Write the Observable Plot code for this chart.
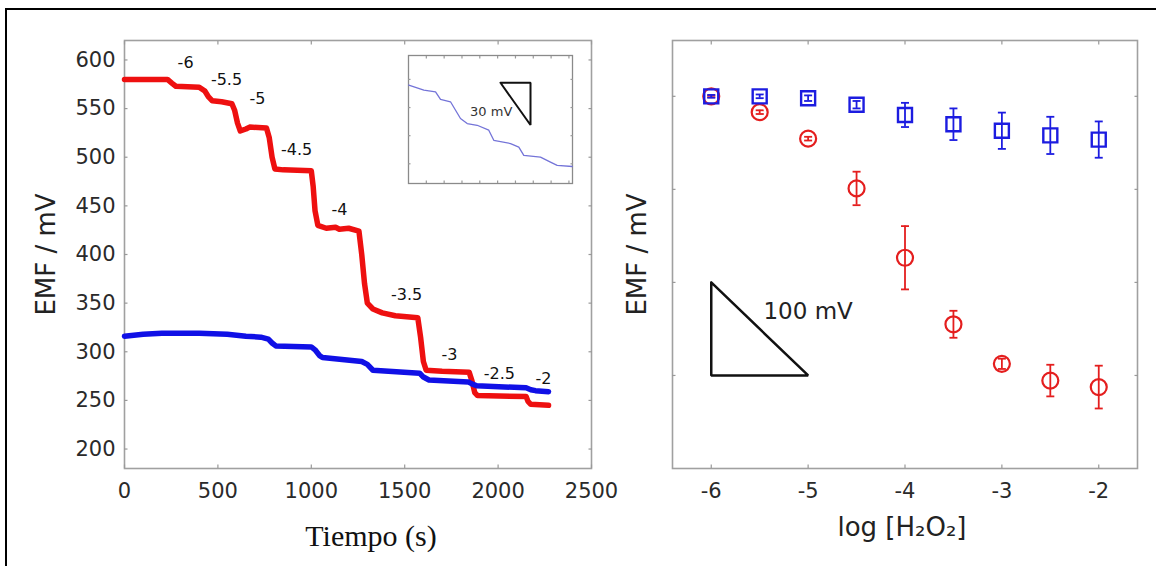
<!DOCTYPE html>
<html><head><meta charset="utf-8">
<script src="https://cdn.jsdelivr.net/npm/d3@7"></script>
<script src="https://cdn.jsdelivr.net/npm/@observablehq/plot@0.6"></script>
<style>
html,body{margin:0;padding:0;background:#fff;overflow:hidden;}
#root{position:relative;width:1156px;height:566px;background:#fff;overflow:hidden;}
#border{position:absolute;left:5px;top:8px;width:1170px;height:580px;border-left:2px solid #000;border-top:2px solid #000;pointer-events:none;}
#left{position:absolute;left:0;top:0;width:620px;height:566px;}
#right{position:absolute;left:600px;top:0;width:556px;height:566px;}
#inset{position:absolute;left:407px;top:54px;width:166px;height:130px;}
</style></head><body>
<div id="root"><div id="left"></div><div id="right"></div><div id="inset"></div><div id="border"></div></div>
<script>
// ---------- Left panel: EMF vs time ----------
const timeTicks = [0, 500, 1000, 1500, 2000, 2500];
const emfTicks = [200, 250, 300, 350, 400, 450, 500, 550, 600];
const redTime = [0,120,230,255,275,400,430,450,470,520,575,590,605,620,650,670,760,775,790,805,850,1000,1010,1020,1035,1080,1130,1150,1200,1255,1270,1285,1300,1330,1380,1450,1570,1585,1600,1615,1700,1845,1860,1875,1890,2150,2160,2175,2270];
const redEMF  = [580,580,580,576,573,572,568,562,558,557,555,548,535,527,529,531,530,520,500,488,487,486,470,445,430,427,428,426,427,424,400,370,350,344,340,337,335,315,290,281,280,279,270,258,255,254,249,246,245];
const blueTime = [0,100,200,400,550,650,730,770,790,810,1000,1020,1045,1060,1270,1300,1330,1580,1600,1630,1840,1860,1885,2150,2175,2200,2270];
const blueEMF  = [316,318,319,319,318,316,315,313,309,306,305,302,296,294,290,287,281,278,274,271,269,267,265,263,261,260,259];
const stepLabels    = ["-6","-5.5","-5","-4.5","-4","-3.5","-3","-2.5","-2"];
const stepLabelTime = [327, 546, 712, 921, 1151, 1510, 1740, 2007, 2243];
const stepLabelEMF  = [597, 580, 560, 508, 446, 359, 297, 277, 272];

// ---------- Inset ----------
const insetTime = [4,215,379,449,589,729,823,963,1126,1196,1431,1547,1617,1851,1991,2085,2296];
const insetEMF  = [316,312.4,311.2,305.8,304.1,292.2,288.6,287.4,283.9,276.7,274.4,271.9,266,264.8,261.2,258.9,258.1];
const insetTimeTicks = [250,500,750,1000,1250,1500,1750,2000,2250];
const insetEmfTicks = [260,280,300,320];
const insetTriTime = [1290,1711,1711,1290];
const insetTriEMF  = [317.6,317.6,287.6,317.6];
const insetNote = ["30 mV"], insetNoteTime = [1160], insetNoteEMF = [296.7];

// ---------- Right panel: EMF vs log[H2O2] ----------
const logH2O2 = [-6,-5.5,-5,-4.5,-4,-3.5,-3,-2.5,-2];
const redMean = [400,383,354.5,301,226.5,155,112.5,94.5,87.5];
const redErr  = [1,2,2,18,34,14.5,5.5,17,23];
const blueMean = [400,400,398,391,380,370,363,358,353.5];
const blueErr  = [1.5,2,3,4,13,17,19.5,20,19.5];
const logTicks = [-6,-5,-4,-3,-2];
const emfRelTicks = [100,200,300,400];
const slopeTriLog = [-6,-6,-5,-6];
const slopeTriEMF = [200,100,100,200];
const slopeNote = ["100 mV"], slopeNoteLog = [-5.0], slopeNoteEMF = [169];

const RED = "#e41e1e", BLUE = "#1c1ce0";
const FONT = "'DejaVu Sans', sans-serif";
const plain = d => String(d);

function inwardTicks(xt, yt, size, stroke) {
  const o = {tickSize: size, fill: "none", stroke, strokeWidth: 1.2, label: null, tickFormat: () => ""};
  return [
    Plot.axisX(xt, {...o, anchor: "bottom", dy: -size}),
    Plot.axisX(xt, {...o, anchor: "top", dy: size}),
    Plot.axisY(yt, {...o, anchor: "left", dx: size}),
    Plot.axisY(yt, {...o, anchor: "right", dx: -size})
  ];
}
const capSymbol = {draw(ctx, size) { const r = Math.sqrt(size / Math.PI); ctx.moveTo(-r, 0); ctx.lineTo(r, 0); }};

const redSeries = redTime.map((t, i) => ({t, v: redEMF[i]}));
const blueSeries = blueTime.map((t, i) => ({t, v: blueEMF[i]}));
const labelRows = stepLabels.map((s, i) => ({s, t: stepLabelTime[i], v: stepLabelEMF[i]}));

const left = Plot.plot({
  width: 620, height: 566,
  marginLeft: 124, marginRight: 29, marginTop: 40, marginBottom: 98,
  style: {fontFamily: FONT, fontSize: "21px", color: "#2a2a2a", background: "transparent", overflow: "visible"},
  x: {domain: [0, 2500], label: null},
  y: {domain: [180, 620], label: null},
  marks: [
    Plot.frame({stroke: "#a0a0a0", strokeWidth: 1.6}),
    ...inwardTicks(timeTicks, emfTicks, 3.5, "#999"),
    Plot.axisY(emfTicks, {anchor: "left", tickSize: 0, tickPadding: 9, tickFormat: plain, label: null}),
    Plot.axisX(timeTicks, {anchor: "bottom", tickSize: 0, tickPadding: 15, tickFormat: plain, label: null}),
    Plot.line(redSeries, {x: "t", y: "v", stroke: "#ee1010", strokeWidth: 5.5, strokeLinejoin: "round", strokeLinecap: "round"}),
    Plot.line(blueSeries, {x: "t", y: "v", stroke: "#1010e6", strokeWidth: 5.5, strokeLinejoin: "round", strokeLinecap: "round"}),
    Plot.text(labelRows, {x: "t", y: "v", text: "s", fontSize: 16, fill: "#111"}),
    Plot.text(["EMF / mV"], {frameAnchor: "left", dx: -78, rotate: -90, textAnchor: "middle", fontSize: 26, fill: "#222"}),
    Plot.text(["Tiempo (s)"], {frameAnchor: "bottom", dy: 68, dx: 13, lineAnchor: "middle", fontFamily: "'Liberation Serif', serif", fontSize: 30, fill: "#111"})
  ]
});
document.getElementById("left").appendChild(left);

const insetRows = insetTime.map((t, i) => ({t, v: insetEMF[i]}));
const insetTri = insetTriTime.map((t, i) => ({t, v: insetTriEMF[i]}));
const inset = Plot.plot({
  width: 166, height: 130, margin: 1,
  style: {fontFamily: FONT, background: "white", overflow: "visible"},
  x: {domain: [0, 2300], label: null},
  y: {domain: [246, 337], label: null},
  marks: [
    Plot.frame({stroke: "#8a8a8a", strokeWidth: 1.3}),
    ...inwardTicks(insetTimeTicks, insetEmfTicks, 2.5, "#999"),
    Plot.line(insetRows, {x: "t", y: "v", stroke: "#7474d8", strokeWidth: 1.3}),
    Plot.line(insetTri, {x: "t", y: "v", stroke: "#111", strokeWidth: 2, strokeLinejoin: "miter"}),
    Plot.text(insetNote, {x: (d, i) => insetNoteTime[i], y: (d, i) => insetNoteEMF[i], text: d => d, fontSize: 13, fill: "#333"})
  ]
});
document.getElementById("inset").appendChild(inset);

const pts = logH2O2.map((x, i) => ({x, r: redMean[i], re: redErr[i], b: blueMean[i], be: blueErr[i]}));
const tri = slopeTriLog.map((x, i) => ({x, v: slopeTriEMF[i]}));
const right = Plot.plot({
  width: 556, height: 566,
  marginLeft: 72, marginRight: 19, marginTop: 40, marginBottom: 98,
  style: {fontFamily: FONT, fontSize: "21px", color: "#2a2a2a", background: "transparent", overflow: "visible"},
  x: {domain: [-6.4, -1.6], label: null},
  y: {domain: [0, 460], label: null},
  marks: [
    Plot.frame({stroke: "#a0a0a0", strokeWidth: 1.6}),
    ...inwardTicks(logTicks, emfRelTicks, 3.5, "#999"),
    Plot.axisX(logTicks, {anchor: "bottom", tickSize: 0, tickPadding: 15, tickFormat: plain, label: null}),
    Plot.line(tri, {x: "x", y: "v", stroke: "#111", strokeWidth: 2.5, strokeLinejoin: "miter"}),
    Plot.text(slopeNote, {x: (d, i) => slopeNoteLog[i], y: (d, i) => slopeNoteEMF[i], text: d => d, fontSize: 23, fill: "#222"}),
    // red series
    Plot.ruleX(pts, {x: "x", y1: d => d.r - d.re, y2: d => d.r + d.re, stroke: RED, strokeWidth: 1.8}),
    Plot.dot(pts, {x: "x", y: d => d.r - d.re, symbol: capSymbol, r: 4, stroke: RED, strokeWidth: 1.8}),
    Plot.dot(pts, {x: "x", y: d => d.r + d.re, symbol: capSymbol, r: 4, stroke: RED, strokeWidth: 1.8}),
    Plot.dot(pts, {x: "x", y: "r", r: 8, stroke: RED, strokeWidth: 2.2, fill: "none"}),
    // blue series
    Plot.ruleX(pts, {x: "x", y1: d => d.b - d.be, y2: d => d.b + d.be, stroke: BLUE, strokeWidth: 1.8}),
    Plot.dot(pts, {x: "x", y: d => d.b - d.be, symbol: capSymbol, r: 4, stroke: BLUE, strokeWidth: 1.8}),
    Plot.dot(pts, {x: "x", y: d => d.b + d.be, symbol: capSymbol, r: 4, stroke: BLUE, strokeWidth: 1.8}),
    Plot.dot(pts, {x: "x", y: "b", symbol: "square", r: 7.9, stroke: BLUE, strokeWidth: 2.4, fill: "none"}),
    Plot.text(["EMF / mV"], {frameAnchor: "left", dx: -35, rotate: -90, textAnchor: "middle", fontSize: 26, fill: "#222"}),
    Plot.text(["log [H₂O₂]"], {frameAnchor: "bottom", dy: 59, dx: -3, lineAnchor: "middle", fontSize: 26, fill: "#222"})
  ]
});
document.getElementById("right").appendChild(right);
</script>
</body></html>
